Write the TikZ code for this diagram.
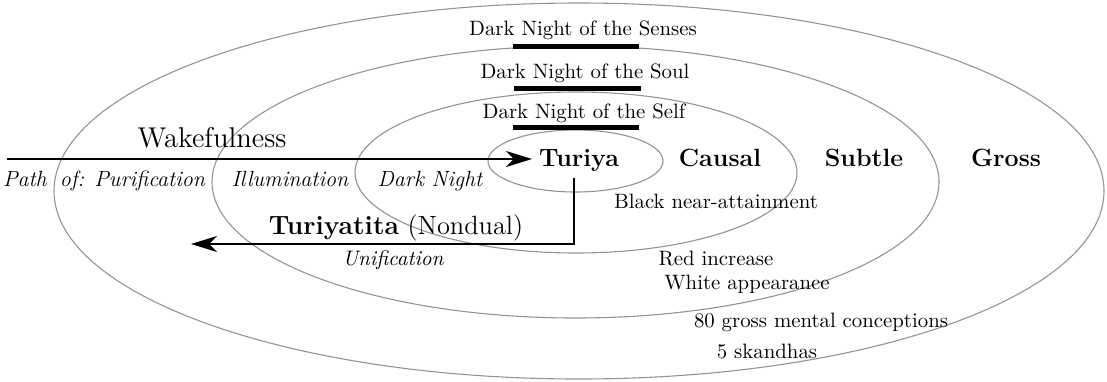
\documentclass[tikz,border=0pt]{standalone}
\usepackage{fontspec}
\usetikzlibrary{arrows.meta}

\begin{document}
\begin{tikzpicture}[x=0.5pt, y=-0.5pt, >={Stealth[length=13pt, width=8pt, inset=4pt]},
        ring/.style={draw=black!42, line width=0.55pt},
        bar/.style={line width=2.5pt},
        way/.style={->, line width=1.25pt},
        lbl/.style={anchor=base, font=\fontsize{10.4}{12}\selectfont},
        stage/.style={anchor=base, font=\fontsize{11}{13}\selectfont\itshape},
        realm/.style={anchor=base, font=\fontsize{12.5}{15}\selectfont\bfseries}]
        \useasboundingbox (0,0) rectangle (1107,381);
        % the four states
        \draw[ring] (579,191) ellipse [x radius=525, y radius=188];
        \draw[ring] (575.5,182) ellipse [x radius=363.5, y radius=136];
        \draw[ring] (576,172.5) ellipse [x radius=221, y radius=80.5];
        \draw[ring] (575.5,161) ellipse [x radius=87.5, y radius=31];
        % dark nights
        \node[lbl] (senses) at (583,35) {Dark Night of the Senses};
        \node[lbl] (soul) at (585,78) {Dark Night of the Soul};
        \node[lbl] (self) at (584,118) {Dark Night of the Self};
        \draw[bar] (513,46) -- (639,46);
        \draw[bar] (514,88) -- (641,88);
        \draw[bar] (513,127) -- (639,127);
        % realms
        \node[anchor=base, font=\fontsize{14.3}{17}\selectfont] (wake) at (212,147) {Wakefulness};
        \node[realm] (turiya) at (579,166) {Turiya};
        \node[realm] (causal) at (720,166) {Causal};
        \node[realm] (subtle) at (864,166) {Subtle};
        \node[realm] (gross) at (1006,166) {Gross};
        \node[stage] (purif) at (104,186) {Path\hspace{0.6em}of: Purification};
        \node[stage] (illum) at (290,186) {Illumination};
        \node[stage] (darknight) at (430,186) {Dark Night};
        \node[anchor=base, font=\fontsize{13.2}{15}\selectfont] (nondual) at (396,234) {{\bfseries Turiyatita} (Nondual)};
        \node[stage, font=\fontsize{10.5}{12}\selectfont\itshape] (unif) at (393,265) {Unification};
        % dissolution signs
        \node[lbl] (black) at (716,208) {Black near-attainment};
        \node[lbl] (red) at (716,265) {Red increase};
        \node[lbl] (white) at (747,289) {White appearance};
        \node[lbl] (eighty) at (821,327) {80 gross mental conceptions};
        \node[lbl] (skandhas) at (767,358) {5 skandhas};
        % path in and back out
        \coordinate (wakestart) at (7,159);
        \coordinate (retcorner) at (574,244);
        \coordinate (retend) at (191,244);
        \draw[way] (wakestart) -- (wakestart -| turiya.west);
        \draw[way] (turiya.south -| retcorner) -- (retcorner) -- (retend);
    \end{tikzpicture}
\end{document}
